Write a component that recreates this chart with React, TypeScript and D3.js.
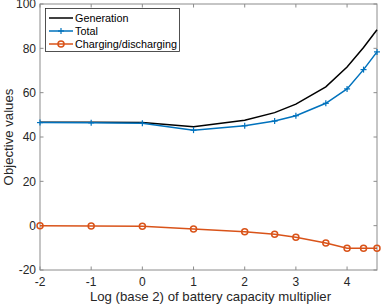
import React, { useRef, useEffect } from 'react';
import * as d3 from 'd3';

const xValues = [-2, -1, 0, 1, 2, 2.585, 3, 3.585, 4, 4.322, 4.585];
const generation = [46.7, 46.6, 46.5, 44.6, 47.6, 51.0, 54.8, 62.6, 71.6, 80.4, 88.4];
const total = [46.5, 46.4, 46.2, 43.1, 45.1, 47.2, 49.6, 55.2, 61.7, 70.4, 78.4];
const charging = [0, -0.2, -0.3, -1.5, -2.7, -3.9, -5.2, -7.8, -10.2, -10.2, -10.2];
const xTicks = [-2, -1, 0, 1, 2, 3, 4];
const yTicks = [-20, 0, 20, 40, 60, 80, 100];
const seriesNames = ['Generation', 'Total', 'Charging/discharging'];

const App: React.FC = () => {
  const svgRef = useRef<SVGSVGElement>(null);

  useEffect(() => {
    if (!svgRef.current) return;
    const width = 382;
    const height = 306;
    const m = { left: 40, right: 5, top: 4, bottom: 36 };

    const svg = d3.select(svgRef.current);
    svg.selectAll('*').remove();

    const x = d3.scaleLinear().domain([-2, Math.log2(24)]).range([m.left, width - m.right]);
    const y = d3.scaleLinear().domain([-20, 100]).range([height - m.bottom, m.top]);

    const axisColor = '#8c8c8c';
    const textColor = '#262626';
    const font = '"Liberation Sans", Arial, Helvetica, sans-serif';

    // frame
    svg.append('rect')
      .attr('x', x.range()[0]).attr('y', y.range()[1])
      .attr('width', x.range()[1] - x.range()[0])
      .attr('height', y.range()[0] - y.range()[1])
      .attr('fill', 'white').attr('stroke', axisColor).attr('stroke-width', 1);

    // ticks (inward, all four sides)
    const tl = 3.5;
    const tg = svg.append('g').attr('stroke', axisColor).attr('stroke-width', 1);
    xTicks.forEach(t => {
      tg.append('line').attr('x1', x(t)).attr('x2', x(t)).attr('y1', y(-20)).attr('y2', y(-20) - tl);
      tg.append('line').attr('x1', x(t)).attr('x2', x(t)).attr('y1', y(100)).attr('y2', y(100) + tl);
    });
    yTicks.forEach(t => {
      tg.append('line').attr('x1', x.range()[0]).attr('x2', x.range()[0] + tl).attr('y1', y(t)).attr('y2', y(t));
      tg.append('line').attr('x1', x.range()[1]).attr('x2', x.range()[1] - tl).attr('y1', y(t)).attr('y2', y(t));
    });

    // tick labels
    svg.append('g').selectAll('text').data(xTicks).join('text')
      .attr('x', d => x(d)).attr('y', y(-20) + 16)
      .attr('text-anchor', 'middle').attr('font-size', 12).attr('font-family', font)
      .attr('fill', textColor).text(d => String(d));
    svg.append('g').selectAll('text').data(yTicks).join('text')
      .attr('x', x.range()[0] - 4).attr('y', d => y(d)).attr('dy', '0.35em')
      .attr('text-anchor', 'end').attr('font-size', 12).attr('font-family', font)
      .attr('fill', textColor).text(d => String(d));

    // axis labels
    svg.append('text')
      .attr('x', (x.range()[0] + x.range()[1]) / 2 + 2).attr('y', 301)
      .attr('text-anchor', 'middle').attr('font-size', 13.2).attr('font-family', font)
      .attr('fill', textColor).text('Log (base 2) of battery capacity multiplier');
    svg.append('text')
      .attr('transform', `translate(13,${(y.range()[0] + y.range()[1]) / 2}) rotate(-90)`)
      .attr('text-anchor', 'middle').attr('font-size', 13.2).attr('font-family', font)
      .attr('fill', textColor).text('Objective values');

    const line = d3.line<[number, number]>().x(d => x(d[0])).y(d => y(d[1]));
    const pts = (vals: number[]) => xValues.map((v, i) => [v, vals[i]] as [number, number]);

    const black = '#000000';
    const blue = '#0072BD';
    const orange = '#D95319';

    svg.append('path').attr('d', line(pts(generation))).attr('fill', 'none')
      .attr('stroke', black).attr('stroke-width', 1.5);

    svg.append('path').attr('d', line(pts(total))).attr('fill', 'none')
      .attr('stroke', blue).attr('stroke-width', 1.5);
    const plus = svg.append('g').attr('stroke', blue).attr('stroke-width', 1.2);
    pts(total).forEach(p => {
      plus.append('line').attr('x1', x(p[0]) - 3).attr('x2', x(p[0]) + 3).attr('y1', y(p[1])).attr('y2', y(p[1]));
      plus.append('line').attr('x1', x(p[0])).attr('x2', x(p[0])).attr('y1', y(p[1]) - 3).attr('y2', y(p[1]) + 3);
    });

    svg.append('path').attr('d', line(pts(charging))).attr('fill', 'none')
      .attr('stroke', orange).attr('stroke-width', 1.5);
    svg.append('g').selectAll('circle').data(pts(charging)).join('circle')
      .attr('cx', d => x(d[0])).attr('cy', d => y(d[1])).attr('r', 3)
      .attr('fill', 'none').attr('stroke', orange).attr('stroke-width', 1.5);

    // legend
    const lg = svg.append('g');
    lg.append('rect').attr('x', 45.5).attr('y', 8.5).attr('width', 134).attr('height', 43)
      .attr('fill', 'white').attr('stroke', '#262626').attr('stroke-width', 0.8);
    const colors = [black, blue, orange];
    seriesNames.forEach((name, i) => {
      const ly = 18 + i * 13;
      lg.append('line').attr('x1', 49).attr('x2', 73).attr('y1', ly).attr('y2', ly)
        .attr('stroke', colors[i]).attr('stroke-width', 1.5);
      if (i === 1) {
        lg.append('line').attr('x1', 58).attr('x2', 64).attr('y1', ly).attr('y2', ly).attr('stroke', blue).attr('stroke-width', 1.2);
        lg.append('line').attr('x1', 61).attr('x2', 61).attr('y1', ly - 3).attr('y2', ly + 3).attr('stroke', blue).attr('stroke-width', 1.2);
      }
      if (i === 2) {
        lg.append('circle').attr('cx', 61).attr('cy', ly).attr('r', 3).attr('fill', 'none')
          .attr('stroke', orange).attr('stroke-width', 1.5);
      }
      lg.append('text').attr('x', 75).attr('y', ly).attr('dy', '0.35em')
        .attr('font-size', 10.8).attr('font-family', font).attr('fill', '#000').text(name);
    });
  }, []);

  return (
    <svg ref={svgRef} width={382} height={306} style={{ position: 'absolute', left: 0, top: 0 }} />
  );
};

export default App;
